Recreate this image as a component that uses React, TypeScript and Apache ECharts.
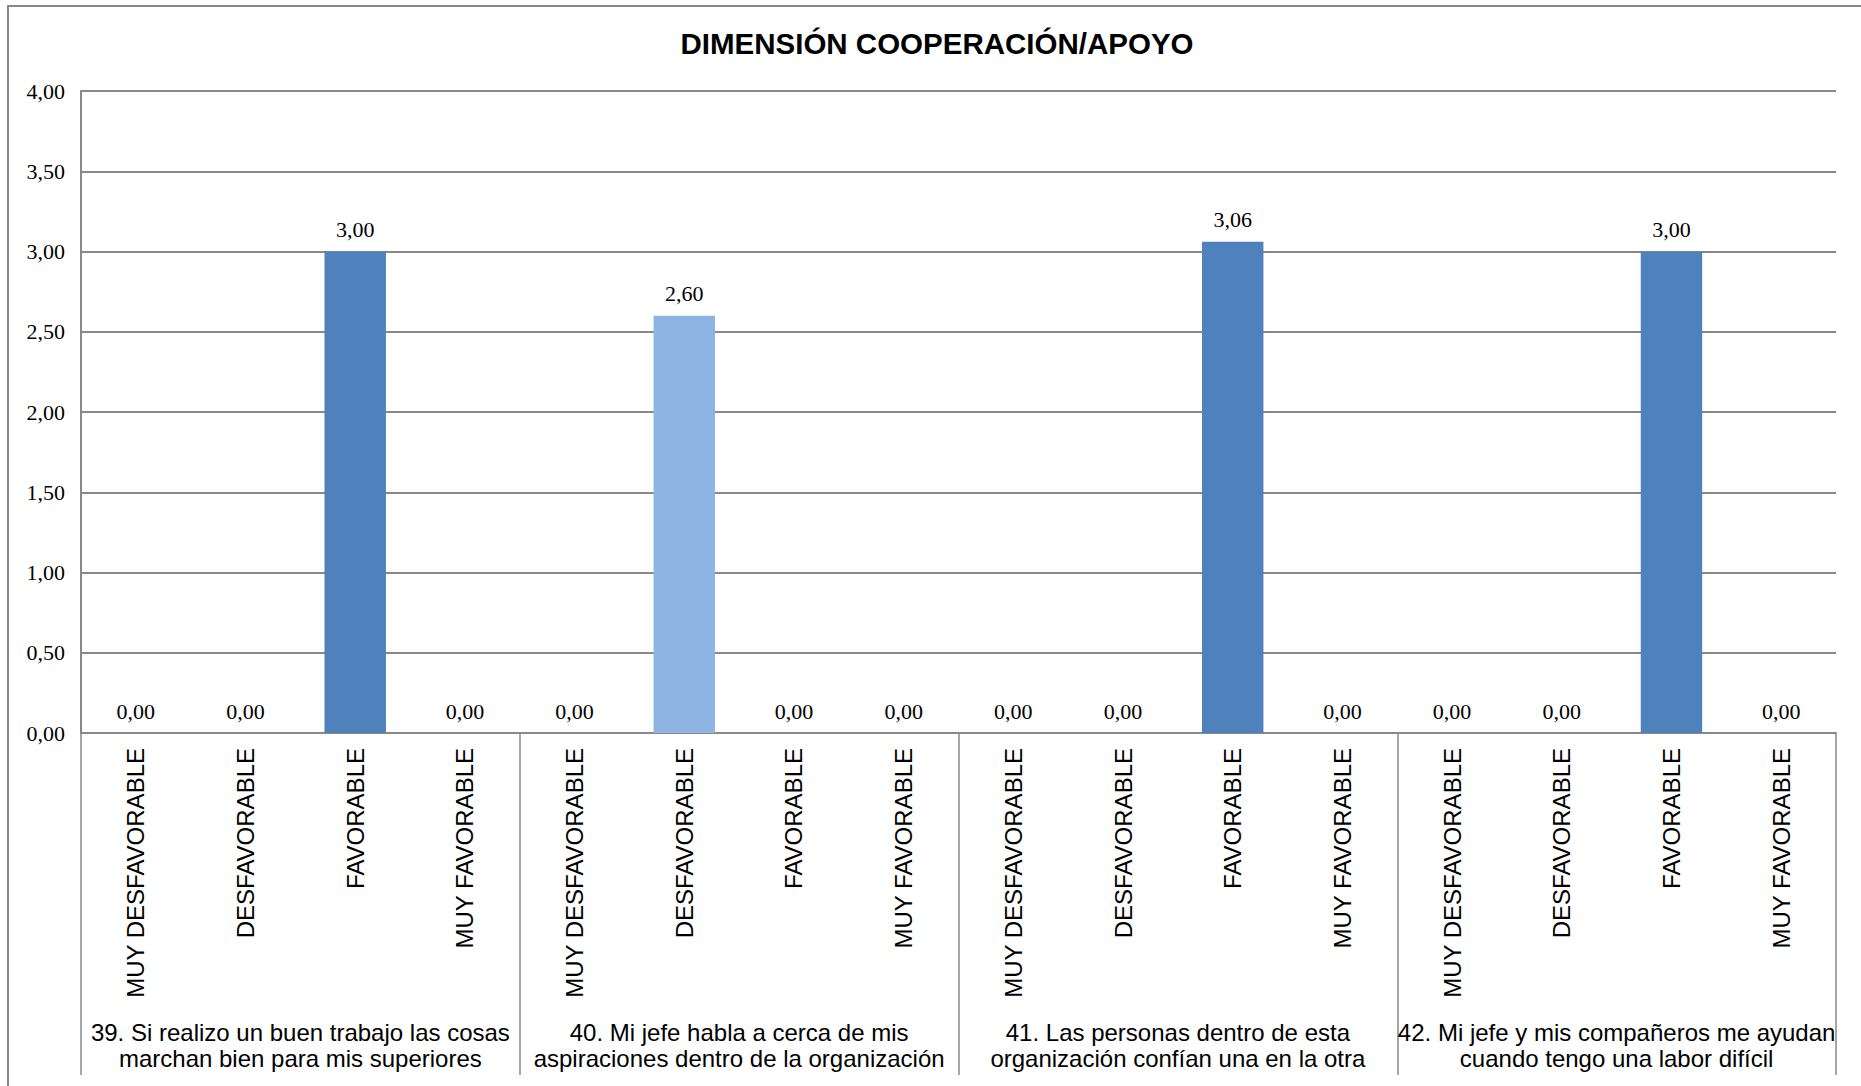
import React, { useEffect, useRef } from "react";
import * as echarts from "echarts";

const titleText = "DIMENSIÓN COOPERACIÓN/APOYO";

const categories = [
  "MUY DESFAVORABLE", "DESFAVORABLE", "FAVORABLE", "MUY FAVORABLE",
  "MUY DESFAVORABLE", "DESFAVORABLE", "FAVORABLE", "MUY FAVORABLE",
  "MUY DESFAVORABLE", "DESFAVORABLE", "FAVORABLE", "MUY FAVORABLE",
  "MUY DESFAVORABLE", "DESFAVORABLE", "FAVORABLE", "MUY FAVORABLE",
];

const groups = [
  "39. Si realizo un buen trabajo las cosas\nmarchan bien para mis superiores",
  "40. Mi jefe habla a cerca de mis\naspiraciones dentro de la organización",
  "41. Las personas dentro de esta\norganización confían una en la otra",
  "42. Mi jefe y mis compañeros me ayudan\ncuando tengo una labor difícil",
];

const values = [
  0.0, 0.0, 3.0, 0.0,
  0.0, 2.6, 0.0, 0.0,
  0.0, 0.0, 3.06, 0.0,
  0.0, 0.0, 3.0, 0.0,
];

const yMin = 0;
const yMax = 4;
const yStep = 0.5;

const DARK = "#4F81BD";
const LIGHT = "#8EB4E3";
const GRID = "#898989";
const SANS = "'Liberation Sans', Arial, sans-serif";
const SERIF = "'Liberation Serif', 'Times New Roman', serif";

const fmt = (v: number) => v.toFixed(2).replace(".", ",");

export default function App() {
  const ref = useRef<HTMLDivElement>(null);
  useEffect(() => {
    if (!ref.current) return;
    const chart = echarts.init(ref.current, undefined, { renderer: "svg" });
    chart.setOption({
      animation: false,
      backgroundColor: "#ffffff",
      grid: { left: 81, top: 91, width: 1755, height: 642, containLabel: false },
      graphic: [
        {
          type: "rect",
          z: -10,
          shape: { x: 8, y: 6, width: 1900, height: 1200 },
          style: { fill: "none", stroke: GRID, lineWidth: 2 },
        },
        {
          type: "text",
          x: 937,
          y: 43,
          style: {
            text: titleText,
            textAlign: "center",
            textVerticalAlign: "middle",
            fontFamily: SANS,
            fontWeight: "bold",
            fontSize: 29.5,
            fill: "#000",
          },
        },
      ],
      xAxis: [
        {
          type: "category",
          data: categories,
          position: "bottom",
          axisLine: { show: true, lineStyle: { color: GRID, width: 2 } },
          axisTick: { show: false },
          axisLabel: {
            interval: 0,
            rotate: 90,
            margin: 15,
            fontSize: 24,
            fontFamily: SANS,
            color: "#000",
          },
          splitLine: { show: false },
        },
        {
          type: "category",
          data: groups,
          position: "bottom",
          axisLine: { show: false, onZero: false },
          axisTick: {
            show: true,
            interval: 0,
            alignWithLabel: false,
            length: 342,
            lineStyle: { color: GRID, width: 1.5 },
          },
          axisLabel: {
            interval: 0,
            margin: 286,
            fontSize: 24,
            lineHeight: 26,
            fontFamily: SANS,
            color: "#000",
            align: "center",
          },
          splitLine: { show: false },
        },
      ],
      yAxis: {
        type: "value",
        min: yMin,
        max: yMax,
        interval: yStep,
        axisLine: { show: true, lineStyle: { color: GRID, width: 2 } },
        axisTick: { show: false },
        axisLabel: {
          formatter: (v: number) => fmt(v),
          margin: 16,
          fontSize: 22,
          fontFamily: SERIF,
          color: "#000",
        },
        splitLine: { show: true, lineStyle: { color: GRID, width: 2 } },
      },
      series: [
        {
          type: "bar",
          xAxisIndex: 0,
          barWidth: "56%",
          data: values.map((v, i) => ({
            value: v,
            itemStyle: { color: categories[i] === "DESFAVORABLE" ? LIGHT : DARK },
          })),
          label: {
            show: true,
            position: "top",
            distance: 11,
            formatter: (p: any) => fmt(p.value),
            fontSize: 22,
            fontFamily: SERIF,
            color: "#000",
          },
        },
      ],
    });
    return () => chart.dispose();
  }, []);
  return (
    <div
      ref={ref}
      style={{ position: "fixed", left: 0, top: 0, width: 1861, height: 1086 }}
    />
  );
}
